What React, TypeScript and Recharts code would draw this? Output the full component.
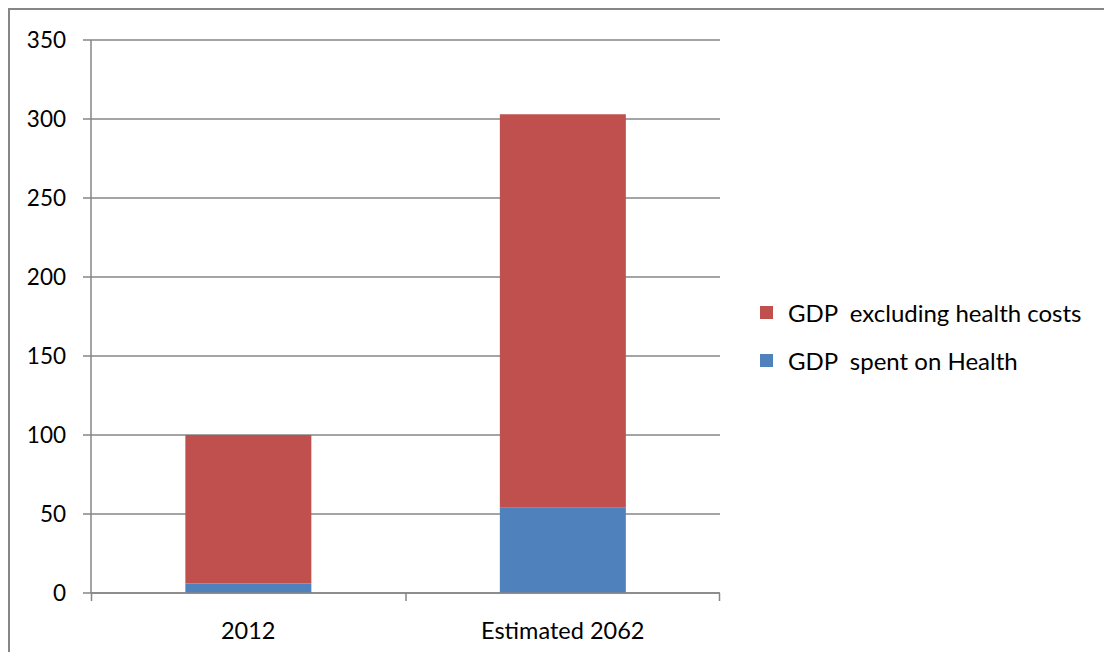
import { BarChart, Bar, XAxis, YAxis, CartesianGrid } from 'recharts';

const categories = ['2012', 'Estimated 2062'];
const healthValues = [6, 54];
const excludingValues = [94, 249];
const yTicks = [0, 50, 100, 150, 200, 250, 300, 350];
const seriesNames = ['GDP  spent on Health', 'GDP  excluding health costs'];
const seriesColors = ['#4F81BD', '#C0504D'];

const data = categories.map((name, i) => ({
  name,
  health: healthValues[i],
  excluding: excludingValues[i],
}));

const FONT = 'Lato, "Open Sans", sans-serif';
const AXIS = '#868686';
const WIDTH = 1104;
const HEIGHT = 644;
const PLOT_LEFT = 83;
const PLOT_RIGHT = 710;
const BAND = (PLOT_RIGHT - PLOT_LEFT) / categories.length;

function CategoryTick(props: any) {
  const { x, y, payload, index } = props;
  const left = x - BAND / 2;
  const right = x + BAND / 2;
  return (
    <g>
      <line x1={left} y1={y} x2={left} y2={y + 8} stroke={AXIS} strokeWidth={1.5} />
      {index === categories.length - 1 && (
        <line x1={right} y1={y} x2={right} y2={y + 8} stroke={AXIS} strokeWidth={1.5} />
      )}
      <text x={x} y={y + 46} textAnchor="middle" fill="#000" fontSize={23.5} fontFamily={FONT}>
        {payload.value}
      </text>
    </g>
  );
}

function ChartLegend() {
  // Excel lists the top segment first
  const order = [1, 0];
  return (
    <div style={{ position: 'absolute', left: 750, top: 278, fontFamily: FONT, fontSize: 24, color: '#000' }}>
      {order.map((i) => (
        <div key={i} style={{ display: 'flex', alignItems: 'center', height: 48 }}>
          <span style={{ width: 13, height: 13, background: seriesColors[i], marginRight: 15, flex: 'none' }} />
          <span style={{ whiteSpace: 'pre' }}>{seriesNames[i]}</span>
        </div>
      ))}
    </div>
  );
}

export default function App() {
  return (
    <div
      style={{
        position: 'relative',
        width: WIDTH,
        height: HEIGHT,
        borderTop: `2px solid ${AXIS}`,
        borderLeft: `2px solid ${AXIS}`,
        boxSizing: 'border-box',
        background: '#fff',
      }}
    >
      <BarChart
        width={WIDTH - 2}
        height={HEIGHT - 2}
        data={data}
        margin={{ top: 30, right: WIDTH - PLOT_RIGHT - 2, bottom: 0, left: 0 }}
        barCategoryGap="30%"
      >
        <CartesianGrid vertical={false} stroke={AXIS} strokeWidth={1.5} />
        <XAxis
          dataKey="name"
          axisLine={{ stroke: AXIS, strokeWidth: 1.5 }}
          tickLine={false}
          tickSize={0}
          tickMargin={0}
          height={59}
          interval={0}
          tick={<CategoryTick />}
        />
        <YAxis
          width={PLOT_LEFT - 2}
          domain={[0, 350]}
          ticks={yTicks}
          interval={0}
          axisLine={{ stroke: AXIS, strokeWidth: 1.5 }}
          tickLine={{ stroke: AXIS, strokeWidth: 1.5 }}
          tickSize={8}
          tickMargin={17}
          tick={{ fill: '#000', fontSize: 22.5, fontFamily: FONT }}
        />
        <Bar dataKey="health" name={seriesNames[0]} stackId="a" fill={seriesColors[0]} isAnimationActive={false} />
        <Bar dataKey="excluding" name={seriesNames[1]} stackId="a" fill={seriesColors[1]} isAnimationActive={false} />
      </BarChart>
      <ChartLegend />
    </div>
  );
}
